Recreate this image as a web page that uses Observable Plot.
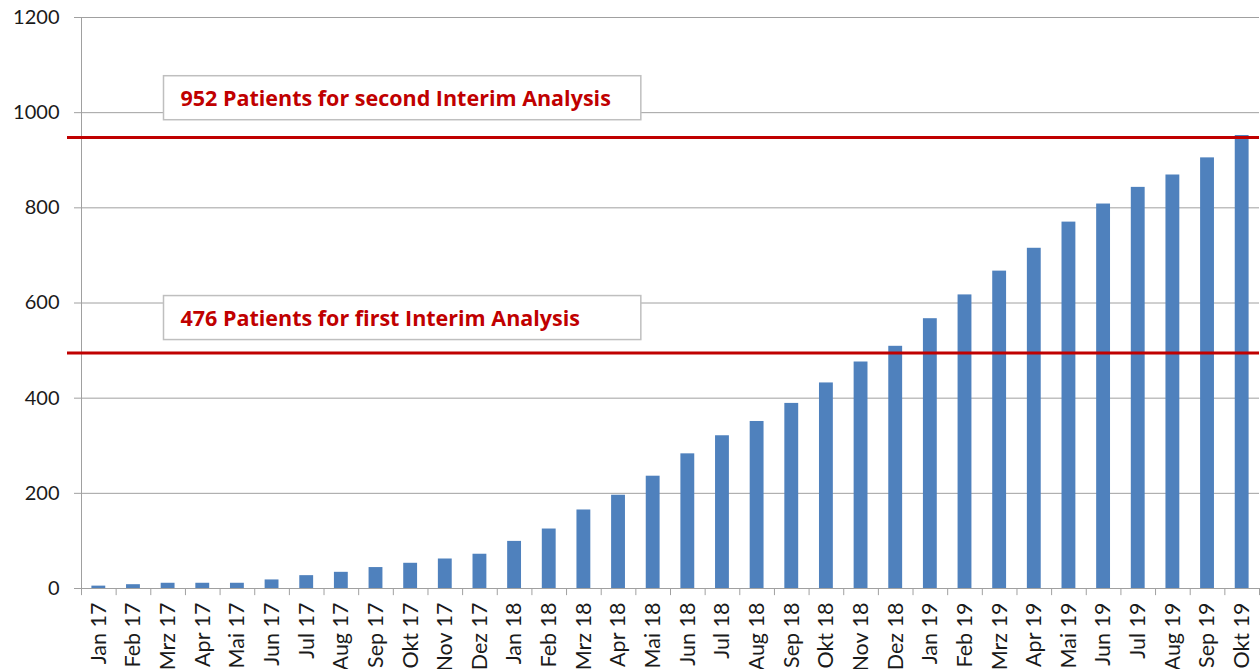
<!DOCTYPE html>
<html><head><meta charset="utf-8">
<script src="https://cdn.jsdelivr.net/npm/d3@7"></script>
<script src="https://cdn.jsdelivr.net/npm/@observablehq/plot@0.6"></script>
<style>body{margin:0;background:#fff}</style>
</head><body><div id="chart"></div>
<script>
const months = ["Jan 17","Feb 17","Mrz 17","Apr 17","Mai 17","Jun 17","Jul 17","Aug 17","Sep 17","Okt 17","Nov 17","Dez 17",
  "Jan 18","Feb 18","Mrz 18","Apr 18","Mai 18","Jun 18","Jul 18","Aug 18","Sep 18","Okt 18","Nov 18","Dez 18",
  "Jan 19","Feb 19","Mrz 19","Apr 19","Mai 19","Jun 19","Jul 19","Aug 19","Sep 19","Okt 19"];
const patients = [5,8,11,11,11,18,27,34,44,53,62,72,
  99,125,165,196,236,283,321,351,389,432,476,509,
  567,617,667,715,770,808,843,869,905,952];
const yTicks = [0,200,400,600,800,1000,1200];
const thresholdValues = [495, 948];
const annotationTexts = ["476 Patients for first Interim Analysis","952 Patients for second Interim Analysis"];
const annotationY = [566, 1028];

const W = 1260, H = 669, ML = 81, MR = 1;
const step = (W - ML - MR) / months.length;
const data = months.map((m, i) => ({month: m, value: patients[i]}));
const annots = annotationTexts.map((t, i) => ({text: t, y: annotationY[i]}));
const grid = "#a0a0a0";

const plot = Plot.plot({
  width: W, height: H, marginLeft: ML, marginRight: MR, marginTop: 17, marginBottom: 81,
  style: {fontFamily: "Lato, sans-serif", background: "#fff", color: "#1a1a1a", overflow: "visible"},
  x: {domain: months, paddingInner: 0.6, paddingOuter: 0.3, round: false, label: null},
  y: {domain: [0, 1200], label: null},
  marks: [
    Plot.ruleY(yTicks, {stroke: grid, strokeWidth: 1, insetLeft: -7}),
    Plot.ruleX([months[0]], {y1: 0, y2: 1200, dx: -step / 2, stroke: grid}),
    Plot.ruleX(months, {y1: 0, y2: -15, dx: -step / 2, stroke: grid}),
    Plot.ruleX([months[months.length - 1]], {y1: 0, y2: -15, dx: step / 2, stroke: grid}),
    Plot.barY(data, {x: "month", y: "value", fill: "#4f81bd"}),
    Plot.ruleY(thresholdValues, {stroke: "#c00000", strokeWidth: 3, insetLeft: -14}),
    Plot.text(annots, {y: "y", text: "text", frameAnchor: "left", dx: 99, textAnchor: "start",
      fill: "#c00000", fontWeight: "bold", fontSize: 21.5, fontFamily: "Open Sans, sans-serif", ariaLabel: "annot"}),
    Plot.axisY({ticks: yTicks, tickFormat: d => String(d), tickSize: 0, tickPadding: 22, fontSize: 20, label: null}),
    Plot.axisX({tickSize: 0, tickRotate: -90, tickPadding: 14, fontSize: 21.5, label: null})
  ]
});
document.getElementById("chart").append(plot);

const svgns = "http://www.w3.org/2000/svg";
let g = plot.querySelector('g[aria-label="annot"]') || plot.querySelector('g[aria-label="text"]');
if (g) {
  const texts = Array.from(g.querySelectorAll("text"));
  const boxes = texts.map(t => t.getBBox());
  const maxW = d3.max(boxes, b => b.width);
  texts.forEach((t, i) => {
    const b = boxes[i];
    const r = document.createElementNS(svgns, "rect");
    r.setAttribute("x", b.x - 17);
    r.setAttribute("y", b.y + b.height / 2 - 22);
    r.setAttribute("width", maxW + 47);
    r.setAttribute("height", 44);
    r.setAttribute("fill", "#fff");
    r.setAttribute("stroke", "#bfbfbf");
    r.setAttribute("stroke-width", 1.5);
    const tr = t.getAttribute("transform");
    if (tr) r.setAttribute("transform", tr);
    g.insertBefore(r, t);
  });
}
</script>
</body></html>
